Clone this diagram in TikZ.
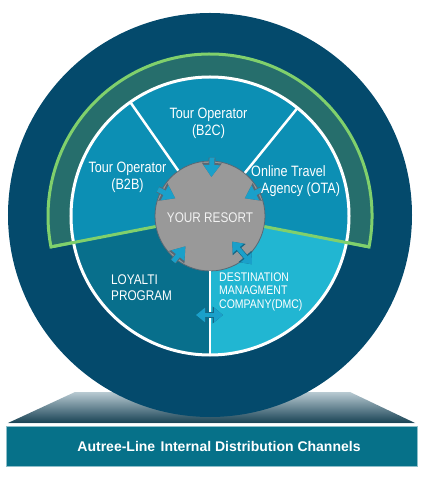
\documentclass[tikz,border=0pt]{standalone}
\usepackage{fontspec}
\setmainfont{Liberation Sans}
\newfontfamily\condfont{Liberation Sans}[FakeStretch=0.84]
\usetikzlibrary{arrows.meta, positioning}
\definecolor{outerblue}{RGB}{4,74,108}
\definecolor{bandteal}{RGB}{38,110,108}
\definecolor{bandgreen}{RGB}{128,208,108}
\definecolor{segmid}{RGB}{12,143,180}
\definecolor{segdark}{RGB}{8,111,140}
\definecolor{seglight}{RGB}{33,182,210}
\definecolor{resgray}{RGB}{153,153,153}
\definecolor{resline}{RGB}{88,104,116}
\definecolor{arrowblue}{RGB}{26,160,202}
\definecolor{arrowline}{RGB}{20,104,134}
\definecolor{basetop}{RGB}{184,202,210}
\definecolor{basebot}{RGB}{24,66,84}
\definecolor{boxteal}{RGB}{6,113,137}

\begin{document}
\begin{tikzpicture}[x=1pt,y=1pt,
  seglabel/.style={text=white,inner sep=0pt,align=center,
    font=\condfont\fontsize{15}{17}\selectfont},
  caplabel/.style={seglabel,font=\condfont\fontsize{14}{16}\selectfont},
  dmclabel/.style={seglabel,font=\condfont\fontsize{12.5}{13.5}\selectfont},
  resort/.style={circle,fill=resgray,draw=resline,line width=0.8pt,
    minimum size=110pt,inner sep=0pt,text=white!90!gray,
    font=\condfont\fontsize{14}{16}\selectfont},
  channelbox/.style={rectangle,fill=boxteal,draw=boxteal!45!white,line width=0.8pt,
    minimum width=411pt,minimum height=40pt,text=white,
    font=\bfseries\fontsize{14}{16}\selectfont},
  divider/.style={draw=white,line width=2.5pt},
  greenline/.style={draw=bandgreen,line width=3pt},
  inarrow/.style={draw=arrowblue,line width=5pt,shorten <=-3pt,
    -{Triangle[width=16pt,length=12pt]},
    preaction={draw=resline,line width=6.6pt,shorten <=-3pt,
      -{Triangle[width=19pt,length=14pt]}}},
  dblarrow/.style={draw=arrowblue,line width=4pt,
    {Triangle[width=14pt,length=9pt]}-{Triangle[width=14pt,length=9pt]},
    preaction={draw=arrowline,line width=5.2pt,
      {Triangle[width=16.5pt,length=10.5pt]}-{Triangle[width=16.5pt,length=10.5pt]}}}]
\useasboundingbox (-210,-270) rectangle (228,216);

\shade[top color=basetop,bottom color=basebot]
  (-135,-176) -- (140,-176) -- (205,-207) -- (-202,-207) -- cycle;
\draw[white!75!basetop,line width=1pt] (-202,-207.5) -- (205,-207.5);
\node[channelbox] (channels) at (1.5,-230) {\hspace*{15pt}Autree-Line\hspace{1.5pt} Internal Distribution Channels};

\fill[outerblue] (0,1) circle[radius=202];
\filldraw[fill=bandteal,draw=bandgreen,line width=3pt,line join=miter]
  (0,0) -- (-11:162) arc[start angle=-11,end angle=191,radius=162] -- cycle;

\foreach \a/\b/\c in {-11/51/segmid,51/125/segmid,125/191/segmid,191/270/segdark,270/349/seglight}
  \fill[\c] (0,0) -- (\a:139) arc[start angle=\a,end angle=\b,radius=139] -- cycle;
\draw[white,line width=3pt] (0,0) circle[radius=139];

\node[resort] (res) at (0,0) {};
\foreach \a in {51,125,270} {
  \coordinate (rim\a) at (\a:139);
  \draw[divider] (res.\a) -- (rim\a);
}
\foreach \a in {191,-11} {
  \coordinate (band\a) at (\a:162);
  \draw[greenline] (res.\a) -- (band\a);
}
\node[resort,draw=none,fill=none] (restext) at (0,-2) {YOUR RESORT};

\foreach \a in {88,153,27,231} {
  \coordinate (tip\a) at (\a:39);
  \draw[inarrow] (res.\a) -- (tip\a);
}
\coordinate (dmcin) at (-49:34);
\coordinate (dmcout) at (-49:64);
\draw[dblarrow] (dmcin) -- (dmcout);
\coordinate (loyside) at (-14,-99);
\coordinate (dmcside) at (13,-99);
\draw[dblarrow] (loyside) -- (dmcside);

\node[seglabel] (b2c) at (-1.5,92.5) {Tour Operator\\(B2C)};
\node[seglabel] (b2b) at (-82.5,39) {Tour Operator\\(B2B)};
\node[seglabel,anchor=west,align=left] (ota) at (41,35) {Online Travel\\\hspace*{10pt}Agency (OTA)};
\node[caplabel,anchor=west,align=left] (loyalti) at (-99,-72) {LOYALTI\\PROGRAM};
\node[dmclabel,anchor=west,align=left] (dmc) at (9,-75.5) {DESTINATION\\MANAGMENT\\COMPANY(DMC)};
\end{tikzpicture}
\end{document}
